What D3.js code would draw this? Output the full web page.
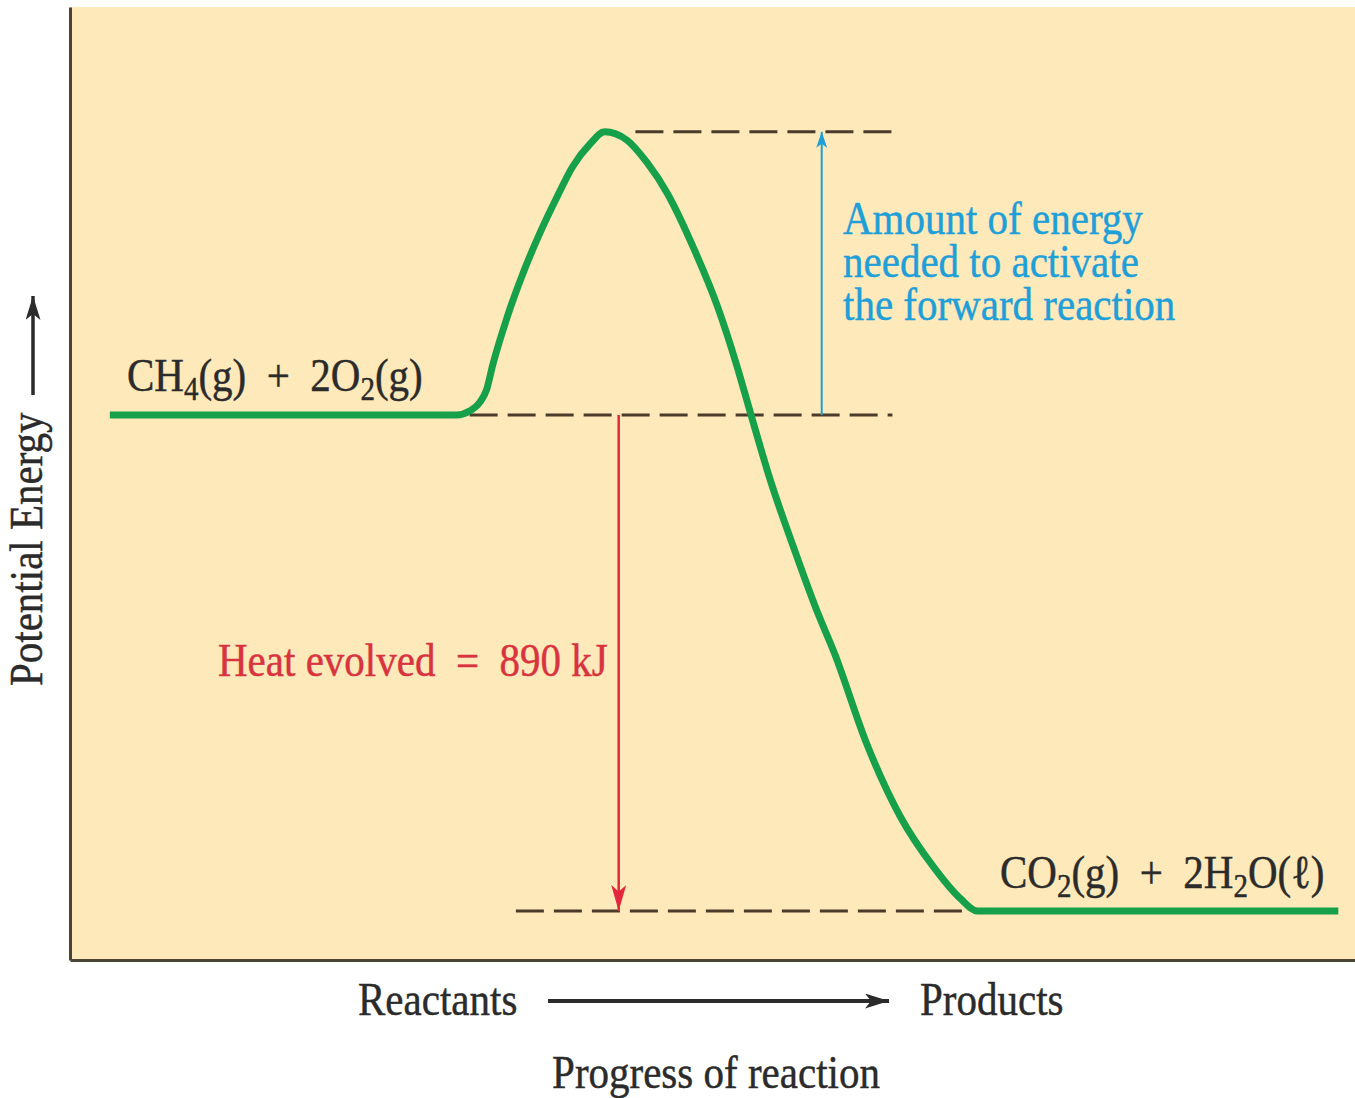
<!DOCTYPE html>
<html>
<head>
<meta charset="utf-8">
<script src="https://cdn.jsdelivr.net/npm/d3@7"></script>
<style>
  body { margin: 0; background: #fff; }
  svg { display: block; }
  text { font-family: "Liberation Serif", "Times New Roman", serif; white-space: pre; }
</style>
</head>
<body>
<svg id="chart" width="1355" height="1098"></svg>
<script>
// energy profile of CH4 combustion (progress 0..100, energy in kJ, products = 0)
const curveProgress = [3.1, 30.1, 31.1, 31.9, 32.4, 32.9, 34.0, 35.3, 36.6, 37.9, 39.1, 40.5, 41.6, 43.35, 44.9, 46.5, 48.5, 50.4, 51.9, 53.0, 54.5, 56.3, 58.1, 59.5, 62.0, 64.6, 67.2, 69.3, 70.6, 98.7];
const curveEnergy = [890, 890, 897, 913, 934, 980, 1064, 1147, 1218, 1281, 1335, 1377, 1398, 1383, 1343, 1287, 1191, 1084, 978, 890, 773, 653, 540, 462, 300, 170, 79, 22, 0, 0];

// dashed reference levels: peak, reactants, products
const levelEnergy = [1398, 890, 0];
const levelStart = [44.0, 31.1, 34.7];
const levelEnd = [64.4, 64.0, 70.4];

// the two energy arrows
const arrowNames = ["activation", "heat"];
const arrowProgress = [58.5, 42.7];
const arrowFrom = [890, 890];
const arrowTo = [1398, 0];

const activationLines = ["Amount of energy", "needed to activate", "the forward reaction"];

const svg = d3.select("#chart");
const x = d3.scaleLinear().domain([0, 100]).range([70, 1355]);
const y = d3.scaleLinear().domain([-88, 1622]).range([960, 7]);

const green = "#17a04a", blue = "#1f9fd8", red = "#e3293b", ink = "#2b2b2b", dash = "#4b3b2b";

// arrow heads
const defs = svg.append("defs");
function marker(id, color, w, h) {
    defs.append("marker")
        .attr("id", id)
        .attr("viewBox", `0 0 ${w} ${h}`)
        .attr("refX", w).attr("refY", h / 2)
        .attr("markerWidth", w).attr("markerHeight", h)
        .attr("markerUnits", "userSpaceOnUse")
        .attr("orient", "auto")
        .append("path")
        .attr("d", `M0,0 L${w},${h / 2} L0,${h} L${w * 0.25},${h / 2} Z`)
        .attr("fill", color);
}
marker("head-blue", blue, 16, 11);
marker("head-red", red, 26, 15);
marker("head-ink", ink, 24, 15);

// panel
svg.append("rect")
    .attr("x", x(0)).attr("y", y(1622))
    .attr("width", x(100) - x(0)).attr("height", y(-88) - y(1622))
    .attr("fill", "#fde9b9");

const xAxis = svg.append("g")
    .attr("transform", `translate(0,${y(-88)})`)
    .call(d3.axisBottom(x).ticks(0).tickSizeOuter(0));
const yAxis = svg.append("g")
    .attr("transform", `translate(${x(0)},0)`)
    .call(d3.axisLeft(y).ticks(0).tickSizeOuter(0));
[xAxis, yAxis].forEach(a => a.select(".domain").attr("stroke", "#4a4535").attr("stroke-width", 3));

// dashed levels
svg.append("g").selectAll("line")
    .data(levelEnergy)
    .join("line")
    .attr("x1", (d, i) => x(levelStart[i]))
    .attr("x2", (d, i) => x(levelEnd[i]))
    .attr("y1", d => y(d))
    .attr("y2", d => y(d))
    .attr("stroke", dash)
    .attr("stroke-width", 3)
    .attr("stroke-dasharray", "28,10");

// energy arrows
svg.append("g").selectAll("line")
    .data(arrowNames)
    .join("line")
    .attr("x1", (d, i) => x(arrowProgress[i]))
    .attr("x2", (d, i) => x(arrowProgress[i]))
    .attr("y1", (d, i) => y(arrowFrom[i]))
    .attr("y2", (d, i) => y(arrowTo[i]))
    .attr("stroke", d => d === "heat" ? red : blue)
    .attr("stroke-width", d => d === "heat" ? 2.5 : 2)
    .attr("marker-end", d => d === "heat" ? "url(#head-red)" : "url(#head-blue)");

// reaction curve
const line = d3.line()
    .x(d => x(d[0]))
    .y(d => y(d[1]))
    .curve(d3.curveMonotoneX);

svg.append("path")
    .datum(curveProgress.map((p, i) => [p, curveEnergy[i]]))
    .attr("d", line)
    .attr("fill", "none")
    .attr("stroke", green)
    .attr("stroke-width", 7)
    .attr("stroke-linejoin", "round");

// text helper: parts are [string, isSubscript]
function label(px, py, parts, color, anchor, rotate) {
    const g = svg.append("g")
        .attr("transform", `translate(${px},${py})${rotate ? " rotate(-90)" : ""} scale(1,1.15)`);
    const t = g.append("text")
        .attr("font-size", 41)
        .attr("fill", color)
        .attr("stroke", color)
        .attr("stroke-width", 0.4)
        .attr("text-anchor", anchor || "start");
    let shifted = false;
    parts.forEach(([s, sub]) => {
        const ts = t.append("tspan").text(s);
        if (sub && !shifted) { ts.attr("font-size", 29).attr("dy", 8); shifted = true; }
        else if (!sub && shifted) { ts.attr("dy", -8); shifted = false; }
    });
    return t;
}

label(127, 391, [["CH"], ["4", true], ["(g)\u2002+\u20022O"], ["2", true], ["(g)"]], ink);
label(1000, 888, [["CO"], ["2", true], ["(g)\u2002+\u20022H"], ["2", true], ["O(\u2113)"]], ink);
label(218, 676, [["Heat evolved\u2002=\u2002890 kJ"]], "#d8333e");

// activation note: one text block, three lines
const note = label(843, 234, [], blue);
note.selectAll("tspan")
    .data(activationLines)
    .join("tspan")
    .attr("x", 0)
    .attr("dy", (d, i) => i === 0 ? 0 : 43 / 1.15)
    .text(d => d);

// axis titles
label(42, 686, [["Potential Energy"]], ink, "start", true);
svg.append("line")
    .attr("x1", 33).attr("x2", 33).attr("y1", 395).attr("y2", 296)
    .attr("stroke", ink).attr("stroke-width", 3.5)
    .attr("marker-end", "url(#head-ink)");

label(358, 1015, [["Reactants"]], ink);
label(920, 1015, [["Products"]], ink);
svg.append("line")
    .attr("x1", 548).attr("x2", 889).attr("y1", 1001).attr("y2", 1001)
    .attr("stroke", ink).attr("stroke-width", 4)
    .attr("marker-end", "url(#head-ink)");
label(716, 1088, [["Progress of reaction"]], ink, "middle");
</script>
</body>
</html>
